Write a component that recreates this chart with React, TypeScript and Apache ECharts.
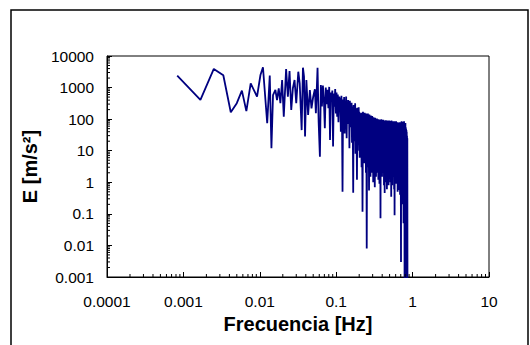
import React, { useEffect, useRef } from "react";
import * as echarts from "echarts";

// Frequency [Hz] of each spectral estimate
const freqHz = [
  0.00083, 0.00167, 0.0025, 0.00333, 0.00417, 0.005, 0.00583, 0.00667, 0.0076, 0.0092,
  0.0102, 0.011, 0.0125, 0.0135, 0.0142, 0.0149, 0.016, 0.0168, 0.0177, 0.0186,
  0.0196, 0.0206, 0.0221, 0.0233, 0.0245, 0.0258, 0.0271, 0.0285, 0.03, 0.0319,
  0.0333, 0.0353, 0.0367, 0.0379, 0.0391, 0.0407, 0.0429, 0.0452, 0.0475, 0.05,
  0.0526, 0.0542, 0.057, 0.0589, 0.0612, 0.063,
  0.065, 0.067, 0.069, 0.071, 0.073, 0.075, 0.077, 0.079, 0.081, 0.083,
  0.085, 0.087, 0.089, 0.091, 0.093, 0.095, 0.097, 0.099, 0.101, 0.103,
  0.105, 0.107, 0.109, 0.111, 0.113, 0.115, 0.117, 0.119, 0.121, 0.123,
  0.125, 0.127, 0.129, 0.131, 0.133, 0.135, 0.137, 0.139, 0.141, 0.143,
  0.145, 0.147, 0.149, 0.151, 0.153, 0.155, 0.157, 0.159, 0.161, 0.163,
  0.165, 0.167, 0.169, 0.171, 0.173, 0.175, 0.177, 0.179, 0.181, 0.183,
  0.185, 0.187, 0.189, 0.191, 0.193, 0.195, 0.197, 0.199,
  0.2, 0.203, 0.206, 0.209, 0.212, 0.215, 0.218, 0.221, 0.224, 0.227,
  0.23, 0.233, 0.236, 0.239, 0.242, 0.245, 0.248, 0.251, 0.254, 0.257,
  0.26, 0.263, 0.266, 0.269, 0.272, 0.275, 0.278, 0.281, 0.284, 0.287,
  0.29, 0.293, 0.296, 0.299, 0.302, 0.305, 0.308, 0.311, 0.314, 0.317,
  0.32, 0.323, 0.326, 0.329, 0.332, 0.335, 0.338, 0.341, 0.344, 0.347,
  0.35, 0.353, 0.356, 0.359, 0.362, 0.365, 0.368, 0.371, 0.374, 0.377,
  0.38, 0.383, 0.386, 0.389, 0.392, 0.395, 0.398, 0.401, 0.404, 0.407,
  0.41, 0.413, 0.416, 0.419, 0.422, 0.425, 0.428, 0.431, 0.434, 0.437,
  0.44, 0.443, 0.446, 0.449, 0.452, 0.455, 0.458, 0.461, 0.464, 0.467,
  0.47, 0.473, 0.476, 0.479, 0.482, 0.485, 0.488, 0.491, 0.494, 0.497,
  0.501, 0.505, 0.509, 0.513, 0.517, 0.521, 0.525, 0.529, 0.533, 0.537,
  0.541, 0.545, 0.549, 0.553, 0.557, 0.561, 0.565, 0.569, 0.573, 0.577,
  0.581, 0.585, 0.589, 0.593, 0.597, 0.601, 0.605, 0.609, 0.613, 0.617,
  0.621, 0.625, 0.629, 0.633, 0.637, 0.641, 0.645, 0.649, 0.653, 0.657,
  0.661, 0.665, 0.669, 0.673, 0.677, 0.681, 0.685, 0.689, 0.693, 0.697,
  0.701, 0.705, 0.709, 0.713, 0.717, 0.721, 0.725, 0.729, 0.733, 0.737,
  0.741, 0.745, 0.749, 0.753, 0.757, 0.761, 0.765, 0.769, 0.773, 0.777,
  0.781, 0.785, 0.789, 0.793, 0.797, 0.801, 0.805, 0.809, 0.813, 0.817,
  0.821, 0.825, 0.829, 0.833, 0.837, 0.841, 0.845, 0.849, 0.853, 0.857,
  0.861,
];

// Spectral energy E [m/s²]
const energy = [
  2400, 410, 3900, 2450, 165, 320, 800, 180, 1350, 514,
  2500, 4400, 74, 2400, 12, 580, 840, 400, 950, 320,
  1740, 120, 3880, 513, 3350, 195, 950, 1740, 320, 3180,
  1365, 45, 4260, 2210, 28, 1740, 135, 840, 220, 513,
  880, 153, 4260, 83, 6.5, 1200,
  250, 1150, 400, 52, 1000, 300, 850, 220, 1050, 22,
  700, 380, 800, 13.5, 650, 250, 900, 150, 700, 120,
  600, 80, 520, 300, 480, 40, 550, 150, 0.5, 420,
  90, 500, 35, 380, 160, 520, 25, 350, 70, 400,
  110, 300, 12, 380, 55, 280, 150, 330, 18, 250,
  40, 0.47, 280, 60, 240, 20, 320, 8, 220, 90,
  30, 1.2, 230, 45, 200, 15, 240, 10,
  170, 6, 150, 20, 160, 3, 130, 0.117, 170, 12,
  140, 4, 160, 25, 120, 2, 150, 0.008, 130, 9,
  150, 3, 120, 0.55, 140, 8, 110, 1.5, 130, 15,
  100, 2, 125, 6, 90, 1, 115, 10, 95, 3,
  0.7, 110, 5, 100, 1.5, 90, 12, 105, 2, 95,
  8, 85, 1.2, 100, 4, 80, 0.9, 95, 6, 90,
  0.072, 90, 3, 100, 7, 85, 1.5, 95, 5, 80,
  2, 95, 4, 85, 0.8, 90, 6, 0.46, 85, 2,
  80, 7, 92, 1, 75, 4, 88, 0.6, 80, 5,
  90, 2, 78, 3, 85, 0.8, 80, 6, 90, 1.5,
  85, 3, 80, 1, 88, 6, 0.35, 90, 2, 75,
  0.8, 82, 5, 85, 1.5, 70, 3, 80, 0.6, 85,
  0.09, 80, 2, 75, 4, 70, 0.9, 85, 3, 78,
  1.2, 80, 5, 72, 0.5, 80, 8, 65, 2, 75,
  0.57, 75, 3, 60, 1.5, 80, 0.4, 70, 4, 78,
  1, 0.003, 70, 0.6, 85, 2, 65, 0.3, 80, 3,
  75, 0.2, 68, 1.5, 82, 0.05, 75, 1, 85, 0.4,
  70, 0.0005, 65, 0.2, 60, 0.001, 75, 0.0005, 55, 0.01,
  50, 0.0004, 45, 0.02, 40, 0.0003, 30, 0.0005, 25, 0.0003,
  0.0003,
];

const xTickLabels = ["0.0001", "0.001", "0.01", "0.1", "1", "10"];
const yTickLabels = ["0.001", "0.01", "0.1", "1", "10", "100", "1000", "10000"];
const minorMultipliers = [2, 3, 4, 5, 6, 7, 8, 9];
const xDecades = [0.0001, 0.001, 0.01, 0.1, 1];
const yDecades = [0.001, 0.01, 0.1, 1, 10, 100, 1000];

const FONT = "'Liberation Sans', Arial, Helvetica, sans-serif";

export default function App() {
  const ref = useRef<HTMLDivElement>(null);

  useEffect(() => {
    if (!ref.current) return;
    const chart = echarts.init(ref.current, undefined, { renderer: "svg" });

    const seriesData = freqHz.map((f, i) => [f, energy[i]]);
    const xMinor: number[][] = [];
    xDecades.forEach((d) => minorMultipliers.forEach((m) => xMinor.push([m * d, 0.001])));
    const yMinor: number[][] = [];
    yDecades.forEach((d) => minorMultipliers.forEach((m) => yMinor.push([0.0001, m * d])));

    chart.setOption({
      animation: false,
      backgroundColor: "#ffffff",
      grid: {
        left: 107,
        top: 56,
        width: 382,
        height: 221,
        show: true,
        borderColor: "#000",
        borderWidth: 1,
        backgroundColor: "transparent",
      },
      xAxis: {
        type: "log",
        logBase: 10,
        min: 0.0001,
        max: 10,
        name: "Frecuencia [Hz]",
        nameLocation: "middle",
        nameGap: 36,
        nameTextStyle: { fontFamily: FONT, fontWeight: "bold", fontSize: 20, color: "#000" },
        axisLine: { lineStyle: { color: "#000", width: 1 } },
        axisTick: { inside: true, length: 5, lineStyle: { color: "#000" } },
        splitLine: { show: false },
        axisLabel: {
          margin: 16,
          fontFamily: FONT,
          fontSize: 15.5,
          color: "#000",
          showMinLabel: true,
          showMaxLabel: true,
          formatter: (v: number) => xTickLabels[Math.round(Math.log10(v)) + 4] ?? "",
        },
      },
      yAxis: {
        type: "log",
        logBase: 10,
        min: 0.001,
        max: 10000,
        name: "E [m/s²]",
        nameLocation: "middle",
        nameRotate: 90,
        nameGap: 63,
        nameTextStyle: { fontFamily: FONT, fontWeight: "bold", fontSize: 20, color: "#000" },
        axisLine: { lineStyle: { color: "#000", width: 1 } },
        axisTick: { inside: true, length: 5, lineStyle: { color: "#000" } },
        splitLine: { show: false },
        axisLabel: {
          margin: 13,
          fontFamily: FONT,
          fontSize: 15.5,
          color: "#000",
          showMinLabel: true,
          showMaxLabel: true,
          formatter: (v: number) => yTickLabels[Math.round(Math.log10(v)) + 3] ?? "",
        },
      },
      graphic: [
        {
          type: "rect",
          shape: { x: 11, y: 10, width: 517, height: 400 },
          style: { fill: "none", stroke: "#000", lineWidth: 1.5 },
          silent: true,
        },
      ],
      series: [
        {
          type: "line",
          data: seriesData,
          showSymbol: false,
          symbol: "none",
          clip: true,
          lineStyle: { color: "#000080", width: 1.8 },
          itemStyle: { color: "#000080" },
          z: 3,
        },
        {
          type: "custom",
          data: xMinor,
          silent: true,
          clip: false,
          z: 4,
          renderItem: (params: any, api: any) => {
            const p = api.coord([api.value(0), api.value(1)]);
            return {
              type: "line",
              shape: { x1: p[0], y1: p[1], x2: p[0], y2: p[1] - 3 },
              style: { stroke: "#000", lineWidth: 1 },
            };
          },
        },
        {
          type: "custom",
          data: yMinor,
          silent: true,
          clip: false,
          z: 4,
          renderItem: (params: any, api: any) => {
            const p = api.coord([api.value(0), api.value(1)]);
            return {
              type: "line",
              shape: { x1: p[0], y1: p[1], x2: p[0] + 3, y2: p[1] },
              style: { stroke: "#000", lineWidth: 1 },
            };
          },
        },
      ],
    });

    return () => chart.dispose();
  }, []);

  return (
    <div
      ref={ref}
      style={{ position: "fixed", left: 0, top: 0, width: 530, height: 345, background: "#fff" }}
    />
  );
}
